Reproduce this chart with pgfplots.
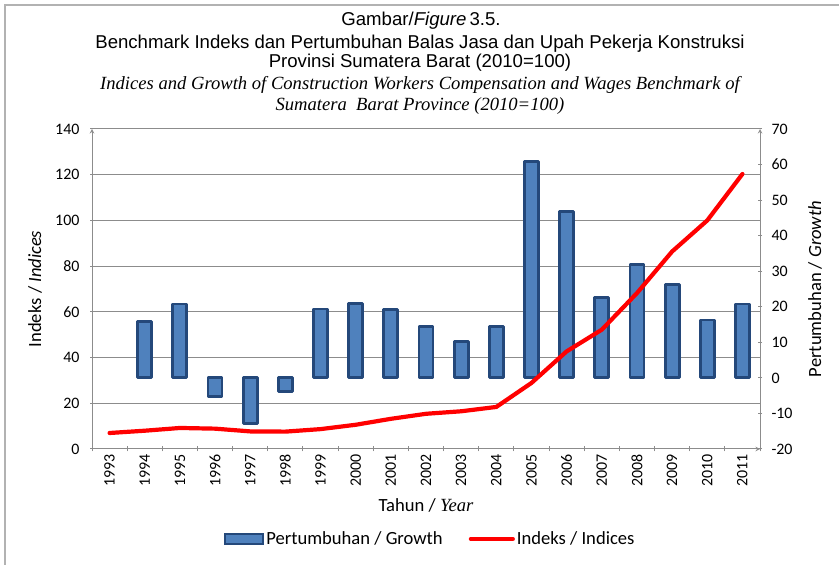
\documentclass[border=0pt]{standalone}
\usepackage{fontspec}
\usepackage{pgfplots}
\usepackage{pgfplotstable}
\pgfplotsset{compat=1.18}
\newfontfamily\arialf{Liberation Sans}
\newfontfamily\timesf{Liberation Serif}
\newfontfamily\calf{Carlito}
\definecolor{barfill}{HTML}{4F81BD}
\definecolor{baredge}{HTML}{24487A}
\definecolor{axgray}{HTML}{8C8C8C}

% growth on the right axis (%), index on the left axis (2010=100)
\pgfplotstableread{
year growth index
1993 nan   7.0
1994 15.9  8.0
1995 20.8  9.2
1996 -5.2  8.9
1997 -12.9 7.7
1998 -3.8  7.6
1999 19.4  8.7
2000 20.9  10.6
2001 19.2  13.2
2002 14.5  15.4
2003 10.3  16.5
2004 14.5  18.4
2005 60.9  28.9
2006 46.7  42.7
2007 22.6  52.2
2008 32.0  68.2
2009 26.2  86.4
2010 16.3  100.0
2011 20.8  120.3
}\datatable

\pgfplotsset{
  base/.style={
    at={(92bp,116bp)}, anchor=south west, scale only axis,
    width=668bp, height=320bp,
    xmin=1992.5, xmax=2011.5,
    axis line style={axgray, line width=1bp, -},
    tick style={axgray, line width=1bp},
    tick align=outside, major tick length=4bp, minor tick length=5bp,
    tick label style={font=\calf\fontsize{16}{16}\selectfont, black},
  },
}

\begin{document}
\begin{tikzpicture}
\useasboundingbox (0bp,0bp) rectangle (839bp,565bp);
\draw[gray!60, line width=1.2bp] (5bp,0bp) -- (5bp,560bp) -- (839bp,560bp);

\node[font=\arialf\fontsize{18.67}{20}\selectfont] at (421bp,544bp) {Gambar/\textit{Figure}\,3.5.};
\node[font=\arialf\fontsize{18.67}{20}\selectfont] at (420bp,521bp) {Benchmark Indeks dan Pertumbuhan Balas Jasa dan Upah Pekerja Konstruksi};
\node[font=\arialf\fontsize{18.67}{20}\selectfont] at (420bp,502bp) {Provinsi Sumatera Barat (2010=100)};
\node[font=\timesf\itshape\fontsize{18.67}{20}\selectfont] at (420bp,480bp) {Indices and Growth of Construction Workers Compensation and Wages Benchmark of};
\node[font=\timesf\itshape\fontsize{18.67}{20}\selectfont] at (420bp,459bp) {Sumatera\ \ Barat Province (2010=100)};

% left axis: grid, years, index scale
\begin{axis}[base,
  axis x line=bottom, axis y line=left,
  xtick={1993,...,2011},
  xticklabels={1993,1994,1995,1996,1997,1998,1999,2000,2001,2002,2003,2004,2005,2006,2007,2008,2009,2010,2011},
  major x tick style={draw=none},
  minor xtick={1992.5,1993.5,...,2011.5},
  xticklabel style={rotate=90, anchor=east},
  ymin=0, ymax=140,
  ytick={0,20,...,140},
  yticklabels={0,20,40,60,80,100,120,140},
  yticklabel style={xshift=-7bp},
  ymajorgrids, grid style={axgray, line width=1bp},
  every axis x label/.style={at={(axis description cs:0.5,-0.175)}, anchor=center},
  every axis y label/.style={at={(axis description cs:-0.0853,0.5)}, anchor=center, rotate=90},
  xlabel={\calf\fontsize{18.67}{20}\selectfont Tahun / {\timesf\itshape Year}},
  ylabel={\calf\fontsize{18.67}{20}\selectfont Indeks / \textit{Indices}},
]
\end{axis}

% right axis: growth bars
\begin{axis}[base,
  axis x line=none, axis y line=right,
  ymin=-20, ymax=70,
  ytick={-20,-10,...,70},
  yticklabels={-20,-10,0,10,20,30,40,50,60,70},
  yticklabel style={xshift=6bp},
  every axis y label/.style={at={(axis description cs:1.0823,0.5)}, anchor=center, rotate=90},
  ylabel={\calf\fontsize{18.67}{20}\selectfont Pertumbuhan / \textit{Growth}},
  ybar, bar width=14bp,
]
\addplot[fill=barfill, draw=baredge, line width=2.8bp, line join=round] table[x=year, y=growth] {\datatable};
\end{axis}

% index line on top, with the legend
\begin{axis}[base,
  hide axis,
  ymin=0, ymax=140,
  legend columns=2,
  legend style={at={(axis description cs:0.506,-0.281)}, anchor=center, draw=none, fill=none,
    font=\calf\fontsize{18.67}{20}\selectfont,
    /tikz/every even column/.append style={column sep=24bp}},
]
\addlegendimage{legend image code/.code={\draw[fill=barfill, draw=baredge, line width=2.8bp] (0bp,-5bp) rectangle (38bp,5bp);}}
\addlegendentry{Pertumbuhan / Growth}
\addplot[red, line width=4.2bp, line join=round, line cap=round, mark=none,
  legend image code/.code={\draw[red, line width=4.2bp, line cap=round] (0bp,0bp) -- (42bp,0bp);}]
  table[x=year, y=index] {\datatable};
\addlegendentry{Indeks / Indices}
\end{axis}
\end{tikzpicture}
\end{document}
